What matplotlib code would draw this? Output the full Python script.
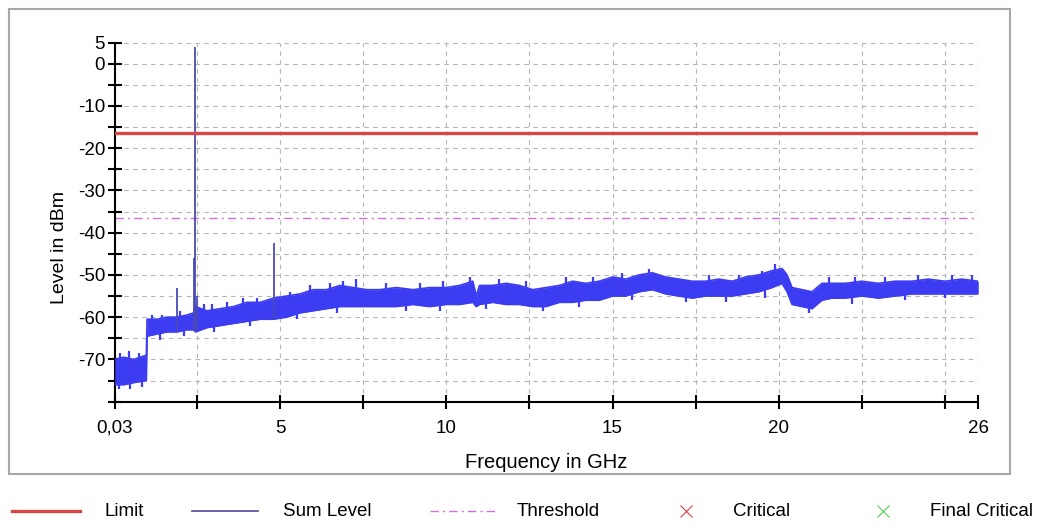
import numpy as np
import matplotlib
matplotlib.use("Agg")
import matplotlib.pyplot as plt
from matplotlib.lines import Line2D
from matplotlib.patches import Rectangle

plt.rcParams['font.family'] = ['Liberation Sans', 'DejaVu Sans']

# band of the sum level trace (GHz, dBm)
freq = [0.03, 0.3, 0.6, 0.98, 1.0, 1.3, 1.6, 1.9, 2.2, 2.4, 2.46, 2.8, 3.2, 3.6,
        4.0, 4.4, 4.8, 5.2, 5.6, 6.0, 6.4, 6.8, 7.2, 7.6, 8.0, 8.5, 9.0, 9.5,
        10.0, 10.4, 10.8, 10.9, 11.0, 11.4, 11.8, 12.2, 12.6, 13.0, 13.4, 13.8,
        14.2, 14.6, 15.0, 15.4, 15.8, 16.2, 16.6, 17.0, 17.4, 17.8, 18.2, 18.6,
        19.0, 19.4, 19.8, 20.1, 20.25, 20.4, 20.7, 21.0, 21.3, 21.6, 22.0, 22.5,
        23.0, 23.5, 24.0, 24.5, 25.0, 25.5, 26.0]
upper = [-70, -69.5, -70, -69, -60.5, -60.5, -60, -60, -59.5, -59, -57.5, -58.5, -58, -57.5,
         -56.5, -56.5, -55.5, -55, -54.5, -53.5, -53.5, -52.5, -53, -53.5, -53.5, -53, -53.5, -53,
         -53, -52.5, -51.5, -55, -52.5, -52.5, -52, -52.5, -53.5, -53, -52.5, -51.5,
         -52, -51.5, -50.5, -51, -50, -49.5, -50.5, -51, -51.5, -51.5, -51, -51.5,
         -50.5, -50, -49, -48.5, -50, -53, -53.5, -54, -52, -52, -52, -51.5,
         -52, -51.5, -51.5, -51, -51.5, -51, -51.5]
lower = [-76, -76, -75.5, -75, -64.5, -64, -63.5, -63.5, -63, -63, -63.5, -62.5, -62, -61.5,
         -61, -60.5, -60.5, -60, -59, -58.5, -58, -57.5, -57.5, -57.5, -57.5, -57.5, -57, -57.5,
         -57, -57, -56.5, -57.5, -57, -56.5, -57, -57, -57.5, -57.5, -56.5, -56.5,
         -56, -56, -55, -55, -54, -53.5, -54.5, -55, -55.5, -55, -55, -55,
         -54.5, -54, -53, -52, -54, -57, -57.5, -58, -56, -55.5, -55.5, -55,
         -55.5, -55, -54.5, -54.5, -54.5, -54.5, -54.5]

# narrow spikes rising from the band
spike_f = [1.89, 2.40, 2.43, 2.5, 4.83]
spike_lvl = [-53, -46, 4, -55, -42.5]

# small peaks on top of the band and dips below it
peak_f = [0.2, 0.45, 0.75, 1.15, 1.45, 2.0, 2.7, 2.95, 3.4, 3.9, 4.3, 5.3, 5.9, 6.5, 6.9,
          7.3, 8.2, 9.2, 9.9, 10.7, 11.6, 12.4, 13.6, 14.4, 15.3, 16.1, 17.9, 18.8,
          19.5, 19.9, 21.5, 22.3, 23.2, 24.2, 25.2, 25.8]
peak_lvl = [-68.5, -68, -68.5, -59.5, -59.5, -58.5, -57, -57, -56.5, -55.5, -55.5, -54,
            -52.5, -52, -51.5, -51, -52, -52, -51.5, -50.5, -51, -51.5, -50.5, -50.5,
            -49.5, -48.5, -50, -50, -49, -47.5, -50.5, -50.5, -50.5, -50, -50, -50]
dip_f = [0.15, 0.5, 0.85, 1.4, 2.1, 3.0, 4.1, 5.5, 6.7, 8.8, 9.8, 11.2, 12.9, 14.0,
         15.6, 17.2, 18.4, 19.6, 20.9, 22.2, 23.8, 25.0]
dip_lvl = [-77, -77, -76.5, -65.5, -64.5, -63.5, -62, -60.5, -59, -58.5, -58.5, -58,
           -58.5, -57.5, -56, -56.5, -56.5, -55.5, -59, -57, -56, -55.5]

limit = -16.5
threshold = -36.5

xticks = [0.03, 2.5, 5, 7.5, 10, 12.5, 15, 17.5, 20, 22.5, 25, 26]
xlabels = ['0,03', '', '5', '', '10', '', '15', '', '20', '', '', '26']
yticks = list(range(-80, 6, 5))
ylabels = ['' if v % 10 else str(v) for v in yticks]
ylabels[-1] = '5'
ylabels[0] = ''

fig = plt.figure(figsize=(10.53, 5.25), dpi=100)
ax = fig.add_axes([0.109, 0.235, 0.820, 0.684])

blue = '#3c3cf2'
ax.fill_between(freq, lower, upper, color=blue, lw=0, zorder=3)
ax.plot(freq, upper, color=blue, lw=1.2, zorder=3)
ax.plot(freq, lower, color=blue, lw=1.2, zorder=3)
ax.vlines(peak_f, np.interp(peak_f, freq, lower), peak_lvl, color=blue, lw=1.6, zorder=3)
ax.vlines(dip_f, dip_lvl, np.interp(dip_f, freq, upper), color=blue, lw=1.6, zorder=3)
base = np.interp(spike_f, freq, lower)
ax.vlines(spike_f, base, spike_lvl, color='#4a4ab8', lw=1.3, zorder=4)

ax.axhline(limit, color='#d44848', lw=2.4, zorder=5)
ax.axhline(threshold, color='#d070d8', lw=1, ls=(0, (6, 3, 1.5, 3)), zorder=2)

ax.set_xlim(0.03, 26)
ax.set_ylim(-80, 5)
ax.set_xticks(xticks)
ax.set_xticklabels(xlabels)
ax.set_yticks(yticks)
ax.set_yticklabels(ylabels)
ax.tick_params(direction='inout', length=10, width=1.5, labelsize=13.5, colors='black', pad=2)
ax.tick_params(axis='x', pad=8)
ax.grid(True, color='#b5b5b5', ls=(0, (4, 4)), lw=0.8)
for s in ['top', 'right']:
    ax.spines[s].set_visible(False)
for s in ['left', 'bottom']:
    ax.spines[s].set_linewidth(1.5)
ax.set_xlabel('Frequency in GHz', fontsize=14.5, labelpad=12)
ax.set_ylabel('Level in dBm', fontsize=14, labelpad=4)
ax.yaxis.set_label_coords(-0.054, 0.43)

# outer frame
fig.patches.append(Rectangle((9 / 1053, 51 / 525), 1001 / 1053, 465 / 525,
                             transform=fig.transFigure, fill=False,
                             edgecolor='#a8a8a8', lw=1.5))

# legend row
ly = 1 - 511 / 525
W = 1053.0
items = [
    (12, 80, 104, 'Limit', dict(color='#d44848', lw=2.4)),
    (192, 258, 283, 'Sum Level', dict(color='#4a4a9a', lw=1.2)),
    (430, 495, 517, 'Threshold', dict(color='#d070d8', lw=1, ls=(0, (6, 3, 1.5, 3)))),
]
for x0, x1, tx, name, kw in items:
    fig.add_artist(Line2D([x0 / W, x1 / W], [ly, ly], transform=fig.transFigure, **kw))
    fig.text(tx / W, ly, name, fontsize=13.5, va='center', ha='left')
fig.add_artist(Line2D([686 / W], [ly], transform=fig.transFigure, marker='x',
                      color='#d44848', ms=9, mew=0.8, ls='none'))
fig.text(733 / W, ly, 'Critical', fontsize=13.5, va='center', ha='left')
fig.add_artist(Line2D([883 / W], [ly], transform=fig.transFigure, marker='x',
                      color='#50d050', ms=9, mew=0.8, ls='none'))
fig.text(930 / W, ly, 'Final Critical', fontsize=13.5, va='center', ha='left')

fig.savefig('out.png', dpi=100, facecolor='white')
